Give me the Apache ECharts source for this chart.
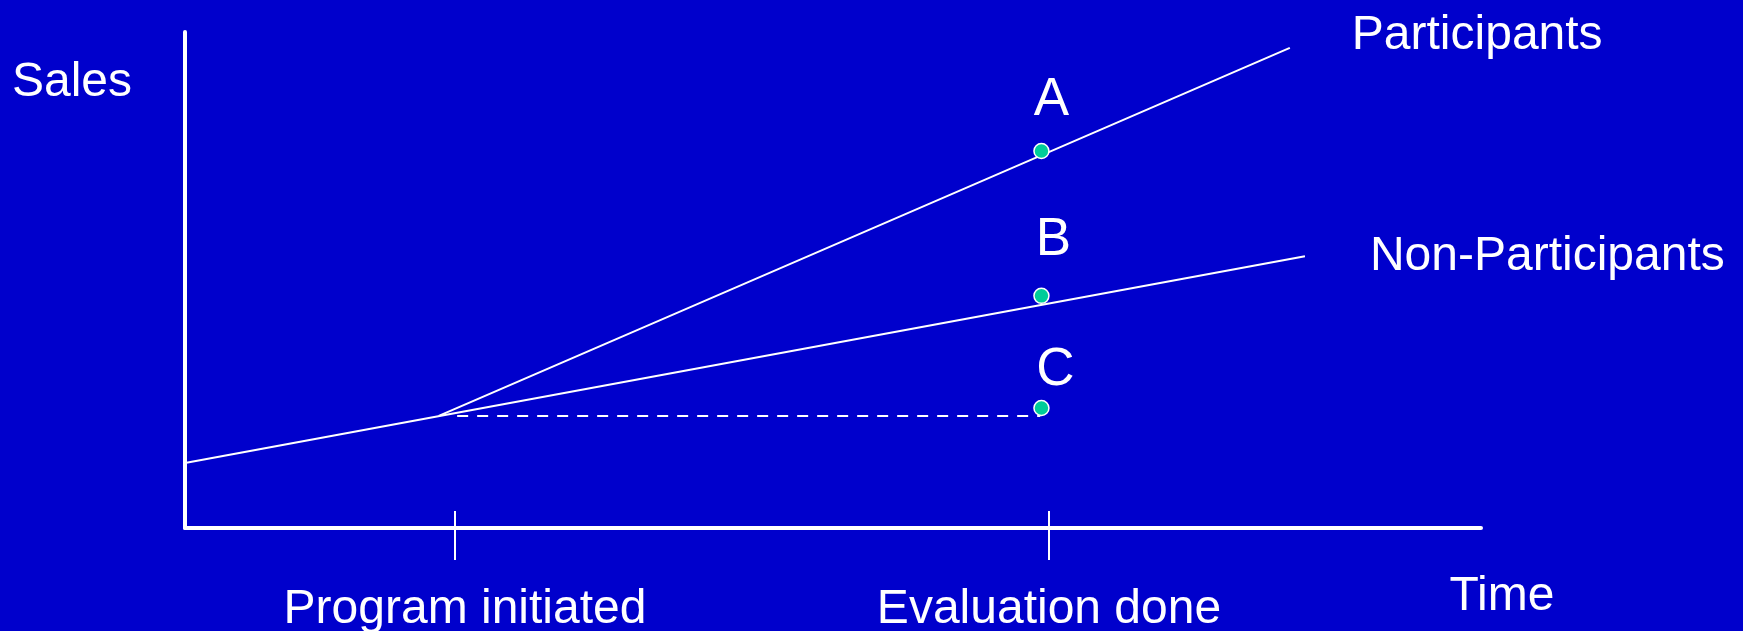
<!DOCTYPE html>
<html>
<head>
<meta charset="utf-8">
<title>Sales over time: participants vs non-participants</title>
<script src="https://cdn.jsdelivr.net/npm/echarts@6/dist/echarts.min.js"></script>
<style>
  html, body { margin: 0; padding: 0; background: #0000CC; }
  #chart { width: 1743px; height: 631px; }
</style>
</head>
<body>
<div id="chart"></div>
<script>
// Time axis markers and their captions
const timeTicks = [2.5, 8];
const tickLabels = ['Program initiated', 'Evaluation done'];

// Sales trajectories (time, sales)
const participants = [[2.35, 2.26], [10.23, 9.68]];
const nonParticipants = [[0, 1.31], [10.37, 5.48]];
// Pre-program level carried forward to the evaluation date
const preProgramLevel = [[2.52, 2.26], [7.92, 2.26]];

// Outcome points at evaluation time
const pointNames = ['A', 'B', 'C'];
const pointTime = 7.93;
const pointSales = [7.60, 4.68, 2.42];

// Axis extents
const timeRange = [0, 12];
const salesRange = [0, 10];

// Label placement for the outcome points, keyed by name
const pointLabelOffset = { A: [10, -51], B: [12, -55], C: [14, -38] };
// Left padding per tick caption (nudges the centred caption sideways)
const tickLabelPadLeft = [20, 0];

const FONT = "'Liberation Sans', Arial, sans-serif";
const WHITE = '#FFFFFF';

const rich = {};
tickLabels.forEach((_, i) => {
  rich['t' + i] = {
    color: WHITE, fontSize: 48, fontFamily: FONT,
    padding: [0, 0, 0, tickLabelPadLeft[i]]
  };
});

const chart = echarts.init(document.getElementById('chart'), null, { renderer: 'canvas' });

chart.setOption({
  backgroundColor: '#0000CC',
  animation: false,
  textStyle: { fontFamily: FONT },
  grid: { left: 185, right: 262, top: 32, bottom: 103, containLabel: false, outerBoundsMode: 'none' },
  xAxis: [
    {
      type: 'value',
      min: timeRange[0],
      max: timeRange[1],
      position: 'bottom',
      name: 'Time',
      nameLocation: 'end',
      nameGap: 21,
      nameTextStyle: {
        color: WHITE, fontSize: 48, fontFamily: FONT,
        align: 'center', verticalAlign: 'top', padding: [45, 0, 0, 0]
      },
      axisLine: { show: true, lineStyle: { color: WHITE, width: 4 } },
      axisTick: {
        show: true, inside: false, length: 32,
        customValues: timeTicks,
        lineStyle: { color: WHITE, width: 2 }
      },
      axisLabel: {
        show: true, customValues: timeTicks, margin: 58,
        color: WHITE, fontSize: 48, fontFamily: FONT,
        formatter: v => {
          const i = timeTicks.indexOf(v);
          return i < 0 ? '' : '{t' + i + '|' + tickLabels[i] + '}';
        },
        rich: rich
      },
      splitLine: { show: false }
    },
    {
      type: 'value',
      min: timeRange[0],
      max: timeRange[1],
      position: 'bottom',
      offset: 0,
      axisLine: { show: false },
      axisTick: {
        show: true, inside: true, length: 17,
        customValues: timeTicks,
        lineStyle: { color: WHITE, width: 2 }
      },
      axisLabel: { show: false },
      splitLine: { show: false }
    }
  ],
  yAxis: {
    type: 'value',
    min: salesRange[0],
    max: salesRange[1],
    name: 'Sales',
    nameLocation: 'end',
    nameGap: -27,
    nameTextStyle: {
      color: WHITE, fontSize: 48, fontFamily: FONT,
      align: 'right', verticalAlign: 'top', padding: [0, 53, 0, 0]
    },
    axisLine: { show: true, lineStyle: { color: WHITE, width: 4 } },
    axisTick: { show: false },
    axisLabel: { show: false },
    splitLine: { show: false }
  },
  series: [
    {
      name: 'Participants',
      type: 'line',
      data: participants,
      symbol: 'none',
      lineStyle: { color: WHITE, width: 2 },
      endLabel: {
        show: true, formatter: '{a}', color: WHITE, fontSize: 48, fontFamily: FONT,
        distance: 0, offset: [62, -12]
      },
      z: 3
    },
    {
      name: 'Non-Participants',
      type: 'line',
      data: nonParticipants,
      symbol: 'none',
      lineStyle: { color: WHITE, width: 2 },
      endLabel: {
        show: true, formatter: '{a}', color: WHITE, fontSize: 48, fontFamily: FONT,
        distance: 0, offset: [65, 1]
      },
      z: 3
    },
    {
      name: 'Pre-program level',
      type: 'line',
      data: preProgramLevel,
      symbol: 'none',
      lineStyle: { color: WHITE, width: 2, type: [11, 9] },
      z: 2
    },
    {
      name: 'Outcomes',
      type: 'scatter',
      data: pointNames.map((n, i) => ({
        name: n,
        value: [pointTime, pointSales[i]],
        label: { offset: pointLabelOffset[n] }
      })),
      symbol: 'circle',
      symbolSize: 15,
      itemStyle: { color: '#00CC99', borderColor: WHITE, borderWidth: 1.5, opacity: 1 },
      label: {
        show: true, position: 'inside', formatter: '{b}',
        color: WHITE, fontSize: 53, fontFamily: FONT
      },
      emphasis: { disabled: true },
      z: 5
    }
  ]
});
</script>
</body>
</html>
